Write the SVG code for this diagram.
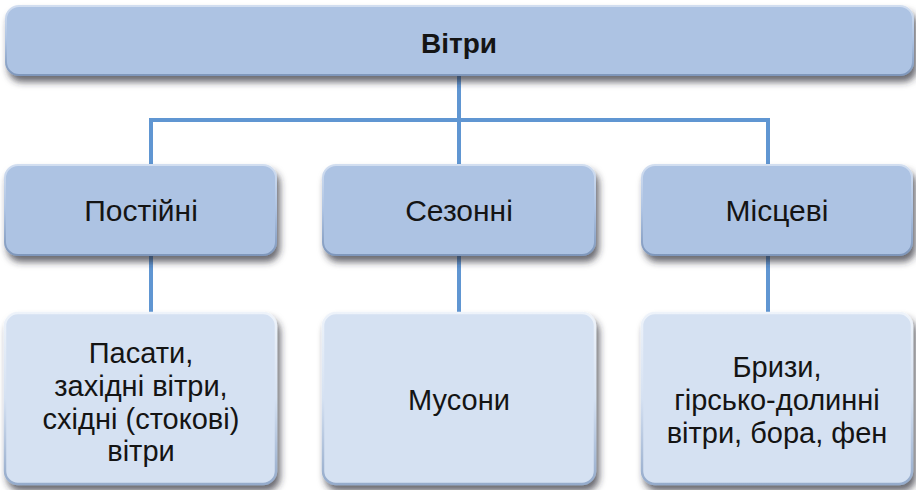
<svg xmlns="http://www.w3.org/2000/svg" width="916" height="490" viewBox="0 0 916 490">
  <defs>
    <filter id="shadow" x="-10%" y="-20%" width="125%" height="150%">
      <feDropShadow dx="3" dy="6" stdDeviation="3.5" flood-color="#252a33" flood-opacity="0.7"/>
    </filter>
    <linearGradient id="bevelDark" x1="0" y1="0" x2="0" y2="1">
      <stop offset="0" stop-color="#d2def0"/>
      <stop offset="0.5" stop-color="#adc3e3"/>
      <stop offset="1" stop-color="#7f97bb"/>
    </linearGradient>
    <linearGradient id="bevelLight" x1="0" y1="0" x2="0" y2="1">
      <stop offset="0" stop-color="#eef3fa"/>
      <stop offset="0.5" stop-color="#d5e1f2"/>
      <stop offset="1" stop-color="#95abcb"/>
    </linearGradient>
  </defs>
  <style>
    .box { fill: #adc3e3; stroke: url(#bevelDark); stroke-width: 2; filter: url(#shadow); }
    .leaf { fill: #d5e1f2; stroke: url(#bevelLight); stroke-width: 2.5; filter: url(#shadow); }
    .t { font-family: "Liberation Sans", Arial, sans-serif; fill: #141414; text-anchor: middle; }
    .mid { font-size: 30px; }
    .low { font-size: 29px; }
    .title { font-size: 28px; font-weight: bold; }
    .conn { stroke: #6096d2; stroke-width: 4; fill: none; }
  </style>
  <rect width="916" height="490" fill="#ffffff"/>

  <g id="connectors">
    <path class="conn" d="M459 75 V120 M151 120 H770 M151 118 V166 M459 120 V166 M768 118 V166"/>
    <path class="conn" d="M151 255 V314 M459 255 V314 M768 255 V314"/>
  </g>

  <g id="node-root">
    <rect class="box" x="6" y="6" width="907" height="69" rx="13"/>
    <text class="t title" x="459" y="53">Вітри</text>
  </g>

  <g id="node-postiini">
    <rect class="box" x="5" y="165" width="271" height="90" rx="13"/>
    <text class="t mid" x="141" y="221">Постійні</text>
  </g>
  <g id="node-sezonni">
    <rect class="box" x="323" y="165" width="272" height="90" rx="13"/>
    <text class="t mid" x="459" y="221">Сезонні</text>
  </g>
  <g id="node-mistsevi">
    <rect class="box" x="642" y="165" width="270" height="90" rx="13"/>
    <text class="t mid" x="777" y="221">Місцеві</text>
  </g>

  <g id="node-pasaty">
    <rect class="leaf" x="5" y="313" width="271" height="171" rx="13"/>
    <text class="t low" x="141" y="363">Пасати,</text>
    <text class="t low" x="141" y="396">західні вітри,</text>
    <text class="t low" x="141" y="429">східні (стокові)</text>
    <text class="t low" x="141" y="461">вітри</text>
  </g>
  <g id="node-musony">
    <rect class="leaf" x="323" y="313" width="272" height="171" rx="13"/>
    <text class="t low" x="459" y="410">Мусони</text>
  </g>
  <g id="node-buryzy">
    <rect class="leaf" x="642" y="313" width="270" height="171" rx="13"/>
    <text class="t low" x="777" y="377">Бризи,</text>
    <text class="t low" x="777" y="410">гірсько-долинні</text>
    <text class="t low" x="777" y="443">вітри, бора, фен</text>
  </g>
</svg>
